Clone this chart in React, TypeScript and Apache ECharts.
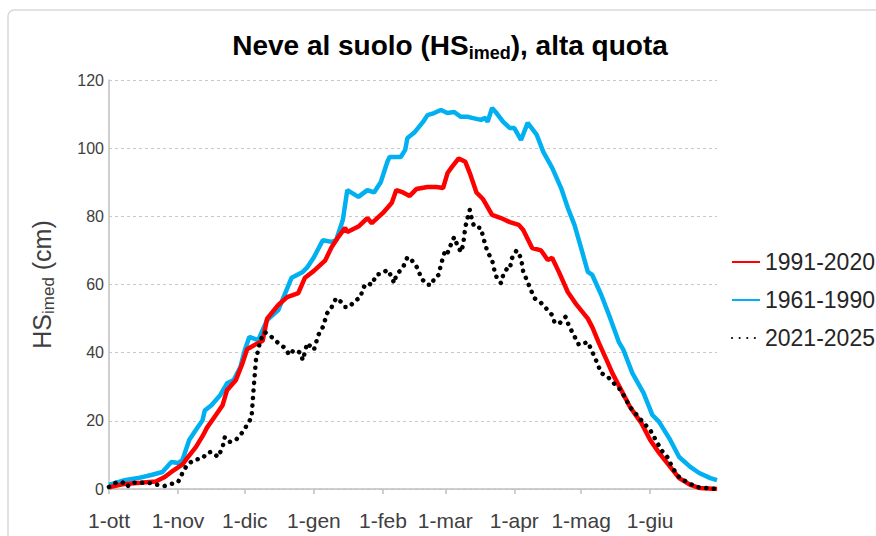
import React, { useEffect, useRef } from "react";
import * as echarts from "echarts";

// Month starts (day index from 1-ott) and their labels
const monthStarts = [0, 31, 61, 92, 123, 151, 182, 212, 243];
const monthLabels = ["1-ott", "1-nov", "1-dic", "1-gen", "1-feb", "1-mar", "1-apr", "1-mag", "1-giu"];
const yTicks = [0, 20, 40, 60, 80, 100, 120];

// 1991-2020 (red)
const redDays = [0, 7, 14, 21, 25, 28, 33, 35, 39, 42, 44, 48, 51, 53, 57, 60, 62, 66, 69, 71, 76, 80, 85, 88, 92, 97, 100, 103, 106, 107, 112, 116, 118, 123, 127, 129, 132, 135, 138, 143, 147, 150, 152, 154, 157, 160, 162, 165, 168, 172, 176, 180, 184, 186, 190, 194, 197, 199, 202, 206, 210, 215, 217, 220, 224, 226, 230, 234, 239, 243, 247, 252, 256, 261, 265, 273];
const redValues = [0.5, 1.5, 1.8, 2.2, 3.5, 5, 7.2, 9, 12.3, 15.5, 18, 21.7, 24.6, 29, 32, 37, 41, 42.5, 43.5, 50, 54, 56.3, 57.5, 62, 64, 67, 71, 74, 76.6, 75.4, 77, 79.5, 78, 81, 84, 87.7, 87, 86, 88, 88.6, 88.6, 88.3, 92.7, 94.5, 97, 96, 92.7, 87, 85, 80.4, 79.5, 78.3, 77.5, 76, 70.7, 70, 67.2, 67.8, 63.7, 57.8, 54, 50, 47.5, 42.8, 37, 34, 29, 24, 19.4, 14.4, 10.6, 6.5, 3.2, 1.2, 0.3, 0];

// 1961-1990 (blue)
const blueDays = [0, 7, 13, 19, 24, 28, 31, 33, 36, 39, 42, 43, 46, 50, 53, 56, 59, 61, 63, 67, 71, 76, 82, 87, 89, 92, 96, 100, 102, 105, 107, 112, 116, 119, 122, 125, 126, 131, 133, 134, 137, 141, 143, 146, 149, 152, 155, 158, 161, 163, 167, 169, 170, 172, 174, 177, 180, 182, 185, 188, 192, 195, 199, 203, 206, 209, 212, 215, 217, 221, 225, 229, 231, 235, 240, 244, 247, 252, 256, 261, 265, 270, 273];
const blueValues = [1.2, 2.6, 3.2, 4.1, 5, 7.9, 7.6, 8.5, 14.4, 17.3, 20.2, 23, 24.6, 27.6, 31, 32, 35.8, 40.8, 44.6, 43.7, 49.6, 52.5, 62, 63.7, 65, 68, 73, 72.5, 73, 79, 87.7, 85.7, 87.7, 87, 90, 96, 97.4, 97.4, 99.5, 103, 104.5, 107.7, 109.7, 110.3, 111.2, 110.3, 110.6, 109.2, 109.2, 108.9, 108.3, 108.9, 107.7, 111.8, 110.3, 107.7, 105.9, 105.9, 102.4, 107.4, 104, 98.9, 94.2, 88.3, 82.5, 77.5, 70.7, 63.7, 62.8, 57, 50.2, 43, 40.8, 34, 28.2, 21.7, 19.7, 14.4, 9.4, 6.5, 4.7, 3.2, 2.6];

// 2021-2025 (black dotted)
const blackDays = [0, 3, 6, 8, 10, 15, 18, 22, 25, 28, 31, 33, 35, 38, 42, 44, 46, 49, 51, 52, 54, 57, 60, 62, 64, 65, 66, 68, 70, 73, 76, 79, 81, 83, 86, 87, 89, 92, 94, 96, 98, 100, 102, 104, 106, 108, 110, 113, 114, 116, 118, 120, 123, 125, 127, 128, 129, 132, 134, 135, 137, 139, 140, 143, 145, 146, 148, 149, 150, 151, 152, 154, 155, 156, 158, 159, 160, 161, 162, 163, 164, 167, 168, 169, 170, 172, 173, 174, 176, 177, 179, 180, 181, 183, 185, 186, 188, 189, 191, 194, 197, 199, 200, 202, 205, 206, 208, 211, 215, 217, 219, 221, 224, 226, 229, 231, 234, 237, 240, 243, 246, 248, 251, 253, 256, 260, 264, 268, 273];
const blackValues = [0.6, 1.8, 2, 0.6, 1.8, 1.8, 1.8, 1.2, 0.9, 1.5, 2, 4.7, 7, 8.5, 9, 10.6, 10.9, 9.4, 12.3, 15.2, 13.8, 14.4, 16.7, 18.8, 21, 30, 38, 43.7, 46, 44.6, 42.8, 41.4, 39.3, 40.8, 40, 37.8, 42.8, 40.8, 45.2, 47.5, 51.6, 53.4, 56, 55, 53.4, 53.4, 55, 56.3, 59, 60.4, 59.9, 62.8, 63.4, 64.3, 62.2, 60.4, 62.8, 65, 68, 67.8, 66.3, 64.3, 61.9, 59.9, 59.9, 61.9, 62.8, 65.7, 68, 70, 69.2, 72.5, 73.9, 72.2, 69.5, 71.6, 76.9, 79.5, 81.9, 78.9, 76.9, 76.6, 73.9, 71.6, 69.5, 67.2, 64.3, 62.2, 60.4, 62.8, 65, 64.8, 67.8, 70, 67.8, 63.7, 60.7, 59, 56, 54.6, 52.5, 51, 49, 48.4, 50.5, 48.7, 46, 42.3, 43.1, 40.2, 37.3, 34, 32.9, 31.4, 29.6, 27.6, 24, 21.7, 19.4, 17.3, 13.8, 11.4, 9.1, 6.2, 3.5, 1.8, 0.6, 0.3, 0];

const seriesNames = ["1991-2020", "1961-1990", "2021-2025"];

const FONT = "Liberation Sans";
const TXT = "#404040";

function pairs(days: number[], vals: number[]) {
  return days.map((d, i) => [d, vals[i]]);
}

export default function App() {
  const ref = useRef<HTMLDivElement>(null);
  useEffect(() => {
    if (!ref.current) return;
    const chart = echarts.init(ref.current, null, { renderer: "svg" });
    chart.setOption({
      animation: false,
      backgroundColor: "#ffffff",
      textStyle: { fontFamily: FONT },
      grid: { left: 109, right: 159, top: 80, bottom: 47 },
      graphic: [
        {
          type: "rect",
          silent: true,
          z: -10,
          shape: { x: 8, y: 10, width: 900, height: 600, r: 6 },
          style: { fill: "none", stroke: "#d9d9d9", lineWidth: 1.5 },
        },
        {
          type: "text",
          x: 450,
          y: 45,
          style: {
            text: "{a|Neve al suolo (HS}{b|imed}{a|), alta quota}",
            align: "center",
            verticalAlign: "middle",
            fill: "#000",
            rich: {
              a: { fontSize: 28, fontWeight: "bold", fontFamily: FONT, lineHeight: 34, fill: "#000", color: "#000" },
              b: { fontSize: 18, fontWeight: "bold", fontFamily: FONT, lineHeight: 18, verticalAlign: "bottom", fill: "#000", color: "#000" },
            },
          },
        },
      ],
      legend: {
        orient: "vertical",
        left: 726,
        top: 244,
        itemWidth: 28,
        itemHeight: 14,
        itemGap: 12,
        data: seriesNames,
        itemStyle: { opacity: 0 },
        textStyle: { fontSize: 23, color: "#262626", lineHeight: 26, fontFamily: FONT },
      },
      xAxis: {
        type: "value",
        min: 0,
        max: 273,
        splitLine: { show: false },
        axisLine: { show: true, lineStyle: { color: "#bfbfbf", width: 1.5 } },
        axisTick: { show: true, customValues: monthStarts, length: 5, lineStyle: { color: "#bfbfbf", width: 1.5 } },
        axisLabel: {
          customValues: monthStarts,
          formatter: (v: number) => monthLabels[monthStarts.indexOf(v)] ?? "",
          fontSize: 21,
          color: TXT,
          margin: 21,
          fontFamily: FONT,
        },
      },
      yAxis: {
        type: "value",
        min: yTicks[0],
        max: yTicks[yTicks.length - 1],
        interval: 20,
        name: "{a|HS}{b|imed}{a| (cm)}",
        nameLocation: "middle",
        nameGap: 52,
        nameTextStyle: {
          color: TXT,
          rich: {
            a: { fontSize: 25, lineHeight: 30, color: TXT, fontFamily: FONT },
            b: { fontSize: 17, lineHeight: 17, verticalAlign: "bottom", color: TXT, fontFamily: FONT },
          },
        },
        axisLine: { show: true, lineStyle: { color: "#bfbfbf", width: 1.5 } },
        axisTick: { show: false },
        axisLabel: { fontSize: 16, color: TXT, margin: 5, fontFamily: FONT },
        splitLine: { show: true, lineStyle: { color: "#c8c8c8", type: [3, 3], width: 1 } },
      },
      series: [
        {
          name: seriesNames[1],
          type: "line",
          data: pairs(blueDays, blueValues),
          symbol: "none",
          showSymbol: false,
          itemStyle: { color: "#00b0f0" },
          lineStyle: { color: "#00b0f0", width: 4.5 },
          z: 2,
        },
        {
          name: seriesNames[0],
          type: "line",
          data: pairs(redDays, redValues),
          symbol: "none",
          showSymbol: false,
          itemStyle: { color: "#ff0000" },
          lineStyle: { color: "#ff0000", width: 4.5 },
          z: 3,
        },
        {
          name: seriesNames[2],
          type: "line",
          data: pairs(blackDays, blackValues),
          symbol: "none",
          showSymbol: false,
          itemStyle: { color: "#000000" },
          lineStyle: { color: "#000000", width: 4.5, type: [0.1, 7.5], cap: "round" },
          z: 4,
        },
      ],
    });
    return () => chart.dispose();
  }, []);
  return (
    <div
      ref={ref}
      style={{ position: "fixed", left: 0, top: 0, width: 876, height: 536, background: "#fff" }}
    />
  );
}
